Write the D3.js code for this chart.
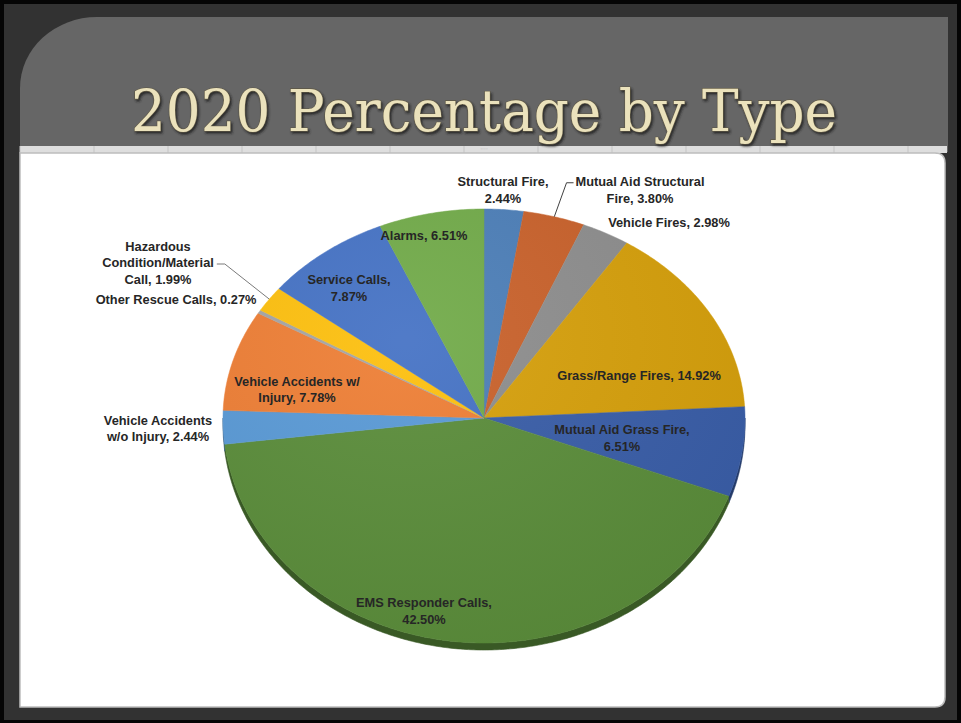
<!DOCTYPE html>
<html>
<head>
<meta charset="utf-8">
<script src="https://cdn.jsdelivr.net/npm/d3@7"></script>
<style>
  html, body { margin: 0; padding: 0; background: #000; }
  svg { display: block; }
</style>
</head>
<body>
<svg id="slide" width="961" height="723"></svg>
<script>
// Call types for the year and their share of all calls (percent)
const categories = [
  "Structural Fire",
  "Mutual Aid Structural Fire",
  "Vehicle Fires",
  "Grass/Range Fires",
  "Mutual Aid Grass Fire",
  "EMS Responder Calls",
  "Vehicle Accidents w/o Injury",
  "Vehicle Accidents w/ Injury",
  "Other Rescue Calls",
  "Hazardous Condition/Material Call",
  "Service Calls",
  "Alarms"
];
const values = [2.44, 3.80, 2.98, 14.92, 6.51, 42.50, 2.44, 7.78, 0.27, 1.99, 7.87, 6.51];

// Slice fills, in category order
const sliceColors = [
  "#4d7fb8", "#c9622c", "#8e8e8e", "#d6a00c", "#3a5ea8", "#5b8d3b",
  "#5a9ad6", "#ee7f36", "#a5a5a5", "#fdc00f", "#4673c5", "#72ab4a"
];

const titleText = "2020 Percentage by Type";

// Word counts after which each data label wraps onto a new line
const labelBreaks = [[2], [3], [], [], [4], [3], [2], [3], [], [1, 2], [2], []];
// Label block centres, relative to the pie centre
const labelOffsets = [
  [19, -228], [156, -228], [185, -195], [155, -42], [138, 20], [-60, 193],
  [-326, 10.5], [-187, -28.5], [-308, -118], [-326, -155], [-135, -130], [-60, -182]
];
// Labels that sit outside the pie and get a leader line ("left" = line leaves from the text's left side)
const leaders = { 1: "left", 9: "right" };

const svg = d3.select("#slide");

// ---- slide frame ----
svg.append("rect").attr("x", 0).attr("y", 0).attr("width", 961).attr("height", 723).attr("fill", "#050505");
svg.append("rect").attr("x", 4).attr("y", 4).attr("width", 953).attr("height", 716).attr("fill", "#323232");

// header band with the rounded top-left corner
svg.append("path")
  .attr("d", "M20,152 L20,88 A77,71 0 0 1 97,17 L948,17 L948,152 Z")
  .attr("fill", "#666666");

// thin sheet strip above the chart area
const strip = svg.append("g");
strip.append("rect").attr("x", 20).attr("y", 146).attr("width", 927).attr("height", 7).attr("fill", "#dedede");
d3.range(20, 947, 74).forEach(x => {
  strip.append("line").attr("x1", x).attr("x2", x).attr("y1", 146).attr("y2", 153)
    .attr("stroke", "#c4c4c4").attr("stroke-width", 1);
});
strip.append("text").attr("x", 484).attr("y", 151).attr("text-anchor", "middle")
  .attr("font-size", 6).attr("fill", "#a8a8a8").attr("font-family", "DejaVu Sans").text("····");

// chart area
svg.append("path")
  .attr("d", "M20,153 L935,153 Q945,153 945,163 L945,697 Q945,707 935,707 L20,707 Z")
  .attr("fill", "#ffffff").attr("stroke", "#bdbdbd").attr("stroke-width", 1.5);

// ---- title ----
const defs = svg.append("defs");
const shadow = defs.append("filter").attr("id", "titleShadow")
  .attr("x", "-5%").attr("y", "-20%").attr("width", "110%").attr("height", "140%");
shadow.append("feDropShadow").attr("dx", 1.5).attr("dy", 2).attr("stdDeviation", 1.2)
  .attr("flood-color", "#1c1c1c").attr("flood-opacity", 0.85);

svg.append("text")
  .attr("x", 484).attr("y", 131)
  .attr("text-anchor", "middle")
  .attr("font-family", "'DejaVu Serif', 'Liberation Serif', serif")
  .attr("font-size", 57)
  .attr("textLength", 706)
  .attr("lengthAdjust", "spacingAndGlyphs")
  .attr("fill", "#ebe2bc")
  .attr("stroke", "#5e5744")
  .attr("stroke-width", 1.2)
  .attr("paint-order", "stroke")
  .attr("filter", "url(#titleShadow)")
  .text(titleText);

// ---- pie in a tilted (perspective) view ----
const cx = 484, cy = 418;
const rx = 261, ryTop = 209, ryBottom = 225;
const depth = 7;

// point on the rim for an angle measured clockwise from 12 o'clock
function rim(a) {
  const c = Math.cos(a);
  return [cx + rx * Math.sin(a), cy - (c >= 0 ? ryTop : ryBottom) * c];
}
function rimPoints(a0, a1) {
  const n = Math.max(2, Math.ceil((a1 - a0) / 0.01));
  return d3.range(n + 1).map(i => rim(a0 + (a1 - a0) * i / n));
}

const pie = d3.pie().sort(null).value(d => d.value).startAngle(0).endAngle(2 * Math.PI);
const data = categories.map((name, i) => ({ name, value: values[i], color: sliceColors[i], i }));
const arcs = pie(data);

const line = d3.line();
const pieG = svg.append("g");

// side wall of the front half
const sideG = pieG.append("g");
arcs.forEach(a => {
  const s = Math.max(a.startAngle, Math.PI / 2);
  const e = Math.min(a.endAngle, 3 * Math.PI / 2);
  if (e <= s) return;
  const top = rimPoints(s, e);
  const bottom = top.map(([x, y]) => [x, y + depth]).reverse();
  sideG.append("path")
    .attr("d", line(top.concat(bottom)) + "Z")
    .attr("fill", d3.color(a.data.color).darker(1.3))
    .attr("stroke", d3.color(a.data.color).darker(1.3))
    .attr("stroke-width", 0.6);
});

// top faces
const faceG = pieG.append("g");
arcs.forEach(a => {
  const pts = [[cx, cy]].concat(rimPoints(a.startAngle, a.endAngle));
  faceG.append("path")
    .attr("d", line(pts) + "Z")
    .attr("fill", a.data.color)
    .attr("stroke", a.data.color)
    .attr("stroke-width", 0.5)
    .attr("stroke-linejoin", "round");
});

// soft shading across the face
const shade = defs.append("radialGradient").attr("id", "faceShade")
  .attr("cx", "35%").attr("cy", "30%").attr("r", "75%");
shade.append("stop").attr("offset", "0%").attr("stop-color", "#ffffff").attr("stop-opacity", 0.06);
shade.append("stop").attr("offset", "100%").attr("stop-color", "#000000").attr("stop-opacity", 0.05);
faceG.append("path")
  .attr("d", line(rimPoints(0, 2 * Math.PI)) + "Z")
  .attr("fill", "url(#faceShade)");

// ---- data labels ----
const labelG = svg.append("g")
  .attr("font-family", "'Liberation Sans', Arial, sans-serif")
  .attr("font-weight", "bold")
  .attr("font-size", 12.8)
  .attr("fill", "#262626");
const lineH = 16.5;

arcs.forEach((a, i) => {
  const words = `${a.data.name}, ${a.data.value.toFixed(2)}%`.split(" ");
  const cuts = [0].concat(labelBreaks[i], [words.length]);
  const lines = d3.range(cuts.length - 1).map(k => words.slice(cuts[k], cuts[k + 1]).join(" "));
  const [dx, dy] = labelOffsets[i];
  const x = cx + dx;
  const y0 = cy + dy - (lines.length - 1) * lineH / 2;
  const t = labelG.append("text").attr("text-anchor", "middle");
  lines.forEach((l, k) => {
    t.append("tspan").attr("x", x).attr("y", y0 + k * lineH).attr("dy", "0.35em").text(l);
  });

  if (leaders[i]) {
    const spans = t.selectAll("tspan").nodes();
    const rowIdx = leaders[i] === "left" ? 0 : 1;
    const w = spans[rowIdx].getComputedTextLength();
    const ly = y0 + rowIdx * lineH + 1;
    const sx = leaders[i] === "left" ? x - w / 2 - 2 : x + w / 2 + 3;
    const kx = leaders[i] === "left" ? sx - 7 : sx + 8;
    const mid = rim((a.startAngle + a.endAngle) / 2);
    svg.append("path")
      .attr("d", line([[sx, ly], [kx, ly], mid]))
      .attr("fill", "none")
      .attr("stroke", leaders[i] === "left" ? "#404040" : "#7a7a7a")
      .attr("stroke-width", 1);
  }
});
</script>
</body>
</html>
